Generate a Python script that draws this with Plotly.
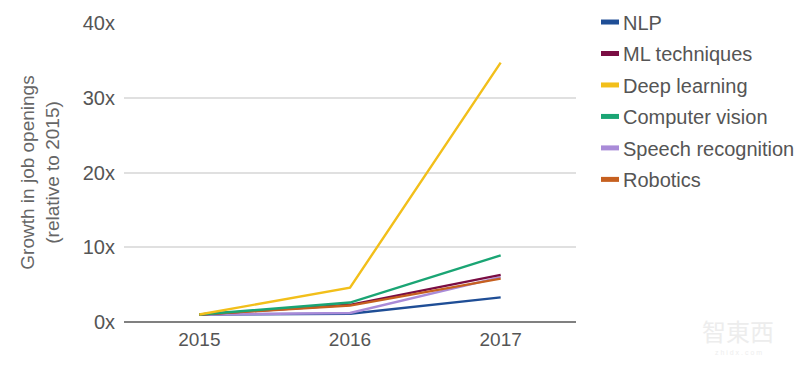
import plotly.graph_objects as go

years = ["2015", "2016", "2017"]
series_names = ["NLP", "ML techniques", "Deep learning", "Computer vision", "Speech recognition", "Robotics"]
nlp = [1.0, 1.1, 3.3]
ml_techniques = [1.0, 2.3, 6.3]
deep_learning = [1.0, 4.6, 34.7]
computer_vision = [1.0, 2.6, 8.9]
speech_recognition = [1.0, 1.2, 6.0]
robotics = [1.0, 2.2, 5.8]
y_ticks = [0, 10, 20, 30, 40]
y_tick_labels = ["0x", "10x", "20x", "30x", "40x"]

values = [nlp, ml_techniques, deep_learning, computer_vision, speech_recognition, robotics]
colors = ["#1f4e96", "#7a0d43", "#f2bf1a", "#1aa574", "#a98bd8", "#c6601f"]

FONT = "Liberation Sans, Arial, sans-serif"
fig = go.Figure()
order = [0, 4, 1, 5, 3, 2]
for i in order:
    fig.add_trace(go.Scatter(x=years, y=values[i], mode="lines", name=series_names[i],
                             line=dict(color=colors[i], width=2.4), showlegend=False))

L, R, T, B = 124, 224, 18, 49
W, H = 800, 371
pw = W - L - R
ph = H - T - B
for i, name in enumerate(series_names):
    ypix = 17 + i * 32
    yp = 1 - (ypix - T) / ph
    x0 = (601 - L) / pw
    x1 = (619 - L) / pw
    fig.add_shape(type="line", xref="paper", yref="paper", x0=x0, x1=x1, y0=yp, y1=yp,
                  line=dict(color=colors[i], width=5))
    fig.add_annotation(text=name, xref="paper", yref="paper", x=(621 - L) / pw, y=yp,
                       xanchor="left", yanchor="middle", showarrow=False, yshift=-1,
                       font=dict(family=FONT, size=20, color="#555555"))

# faint watermark
fig.add_annotation(text="智東西", xref="paper", yref="paper", x=(738 - L) / pw, y=1 - (331 - T) / ph,
                   xanchor="center", yanchor="middle", showarrow=False,
                   font=dict(family="Noto Sans CJK SC", size=24, color="#ededed"))
fig.add_annotation(text="z h i d x . c o m", xref="paper", yref="paper", x=(738 - L) / pw, y=1 - (353 - T) / ph,
                   xanchor="center", yanchor="middle", showarrow=False,
                   font=dict(family=FONT, size=7, color="#eeeeee"))

fig.update_layout(
    width=W, height=H,
    margin=dict(l=L, r=R, t=T, b=B),
    plot_bgcolor="white", paper_bgcolor="white",
    font=dict(family=FONT, size=19, color="#666666"),
    showlegend=False,
)
fig.update_xaxes(type="category", range=[-0.5, 2.5], showgrid=False, zeroline=False,
                 showline=False, ticks="", ticklabelstandoff=4,
                 tickfont=dict(size=19, color="#555555"))
fig.update_yaxes(range=[0, 40], tickvals=y_ticks, ticktext=y_tick_labels,
                 showgrid=True, gridcolor="#e0e0e0", gridwidth=1.5,
                 zeroline=True, zerolinecolor="#808080", zerolinewidth=2,
                 ticks="", ticklabelstandoff=8,
                 tickfont=dict(size=20, color="#555555"),
                 title=dict(text="Growth in job openings<br>(relative to 2015)",
                            font=dict(size=19, color="#666666"), standoff=18))
fig.write_html("out.html")
